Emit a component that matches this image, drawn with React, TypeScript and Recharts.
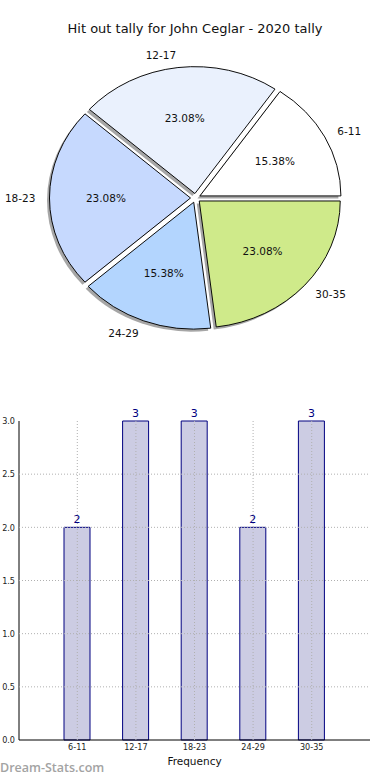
import { PieChart, Pie, Cell, BarChart, Bar, XAxis, YAxis, ReferenceLine, LabelList } from 'recharts';

const categories = ['6-11', '12-17', '18-23', '24-29', '30-35'];
const tallies = [2, 3, 3, 2, 3];
const sliceColors = ['#ffffff', '#eaf1fd', '#c6d9fe', '#b3d5fe', '#cfea8a'];
const yTicks = [0, 0.5, 1, 1.5, 2, 2.5, 3];
const gridY = [0.5, 1, 1.5, 2, 2.5];

const pieData = categories.map((name, i) => ({ name, value: tallies[i] }));
const barData = categories.map((name, i) => ({ name, count: tallies[i] }));

// matplotlib draws this pie squashed a bit vertically, with every wedge exploded
const CX = 195.5;
const CY = 198;
const R = 141;
const SQ = 0.9;
const EXPLODE = 5;
const FONT = '"DejaVu Sans", sans-serif';

const total = tallies.reduce((a, b) => a + b, 0);
const midAngles: number[] = [];
{
  let acc = 0;
  tallies.forEach((v) => {
    midAngles.push(((acc + v / 2) / total) * 360);
    acc += v;
  });
}

const wedgeTransform = (i: number, sx = 0, sy = 0) => {
  const rad = (midAngles[i] * Math.PI) / 180;
  const dx = EXPLODE * Math.cos(rad) + sx;
  const dy = -EXPLODE * SQ * Math.sin(rad) + sy + CY * (1 - SQ);
  return `translate(${dx},${dy}) scale(1,${SQ})`;
};

const renderLabels = (props: any) => {
  const { index, midAngle, percent } = props;
  const rad = (midAngle * Math.PI) / 180;
  const c = Math.cos(rad);
  const s = Math.sin(rad);
  const pr = EXPLODE + 0.6 * R;
  const lr = EXPLODE + 1.1 * R;
  return (
    <g>
      <text x={CX + pr * c} y={CY - pr * SQ * s} textAnchor="middle" dominantBaseline="central" fontSize={10.5} fill="#111" fontFamily={FONT}>
        {((percent ?? 0) * 100).toFixed(2)}%
      </text>
      <text x={CX + lr * c} y={CY - lr * SQ * s} textAnchor={c > 0 ? 'start' : 'end'} dominantBaseline="central" fontSize={10.5} fill="#111" fontFamily={FONT}>
        {categories[index]}
      </text>
    </g>
  );
};

const tickFont = { fontSize: 9, fill: '#222', fontFamily: '"Liberation Sans Narrow", "DejaVu Sans Condensed", "DejaVu Sans", sans-serif' };
const barMargin = { top: 41, right: 20, bottom: 0, left: 0 };
const xPad = { left: 29, right: 29 };

export default function App() {
  return (
    <div style={{ position: 'absolute', left: 0, top: 0, width: 390, height: 780, background: '#fff', fontFamily: FONT }}>
      <div style={{ position: 'absolute', left: 0, top: 21, width: 390, textAlign: 'center', fontSize: 13, color: '#111' }}>
        Hit out tally for John Ceglar - 2020 tally
      </div>
      <div style={{ position: 'absolute', left: 0, top: 0 }}>
        <PieChart width={390} height={380} margin={{ top: 0, right: 0, bottom: 0, left: 0 }}>
          <Pie
            data={pieData}
            dataKey="value"
            nameKey="name"
            cx={CX}
            cy={CY}
            outerRadius={R}
            startAngle={0}
            endAngle={360}
            stroke="none"
            isAnimationActive={false}
          >
            {pieData.map((_, i) => (
              <Cell key={i} fill="#4d4d4d" fillOpacity={0.5} transform={wedgeTransform(i, -2.5, 2.5)} />
            ))}
          </Pie>
          <Pie
            data={pieData}
            dataKey="value"
            nameKey="name"
            cx={CX}
            cy={CY}
            outerRadius={R}
            startAngle={0}
            endAngle={360}
            stroke="#000"
            strokeWidth={1}
            label={renderLabels}
            labelLine={false}
            isAnimationActive={false}
          >
            {pieData.map((_, i) => (
              <Cell key={i} fill={sliceColors[i]} transform={wedgeTransform(i)} />
            ))}
          </Pie>
        </PieChart>
      </div>
      <div style={{ position: 'absolute', left: 0, top: 380 }}>
        <BarChart width={390} height={400} data={barData} margin={barMargin}>
          <XAxis
            dataKey="name"
            type="category"
            padding={xPad}
            height={40}
            tickLine={false}
            tickSize={0}
            tickMargin={4}
            axisLine={{ stroke: '#000' }}
            tick={tickFont}
            label={{ value: 'Frequency', position: 'insideBottom', offset: 15, fontSize: 10.5, fill: '#111', fontFamily: FONT }}
          />
          <XAxis xAxisId="top" dataKey="name" orientation="top" height={0} tick={false} tickLine={false} axisLine={{ stroke: '#000' }} padding={xPad} />
          <YAxis
            domain={[0, 3]}
            ticks={yTicks}
            width={19}
            tickLine={false}
            tickSize={0}
            tickMargin={4}
            axisLine={{ stroke: '#000' }}
            tick={tickFont}
            tickFormatter={(v: number) => v.toFixed(1)}
          />
          <YAxis yAxisId="right" orientation="right" width={0} domain={[0, 3]} tick={false} tickLine={false} axisLine={{ stroke: '#000' }} />
          <Bar dataKey="count" fill="#ccccE3" stroke="#000080" strokeWidth={1} barSize={26} isAnimationActive={false}>
            <LabelList dataKey="count" position="top" offset={4} fill="#000080" fontSize={11} fontFamily={FONT} />
          </Bar>
        </BarChart>
      </div>
      {/* grid overlay: matplotlib draws the dotted grid over the bars */}
      <div style={{ position: 'absolute', left: 0, top: 380, pointerEvents: 'none' }}>
        <BarChart width={390} height={400} data={barData} margin={barMargin}>
          <XAxis dataKey="name" type="category" padding={xPad} height={40} tick={false} tickLine={false} axisLine={false} />
          <YAxis domain={[0, 3]} ticks={yTicks} width={19} tick={false} tickLine={false} axisLine={false} />
          <Bar dataKey="count" fill="none" stroke="none" barSize={26} isAnimationActive={false} />
          {gridY.map((y) => (
            <ReferenceLine key={`y${y}`} y={y} stroke="#b0b0b0" strokeDasharray="1 2" />
          ))}
          {categories.map((c) => (
            <ReferenceLine key={`x${c}`} x={c} stroke="#b0b0b0" strokeDasharray="1 2" />
          ))}
        </BarChart>
      </div>
      <div style={{ position: 'absolute', left: 0, top: 759, fontFamily: '"Open Sans", sans-serif', fontWeight: 600, fontSize: 12.5, color: '#a3a3a3' }}>
        Dream-Stats.com
      </div>
    </div>
  );
}
